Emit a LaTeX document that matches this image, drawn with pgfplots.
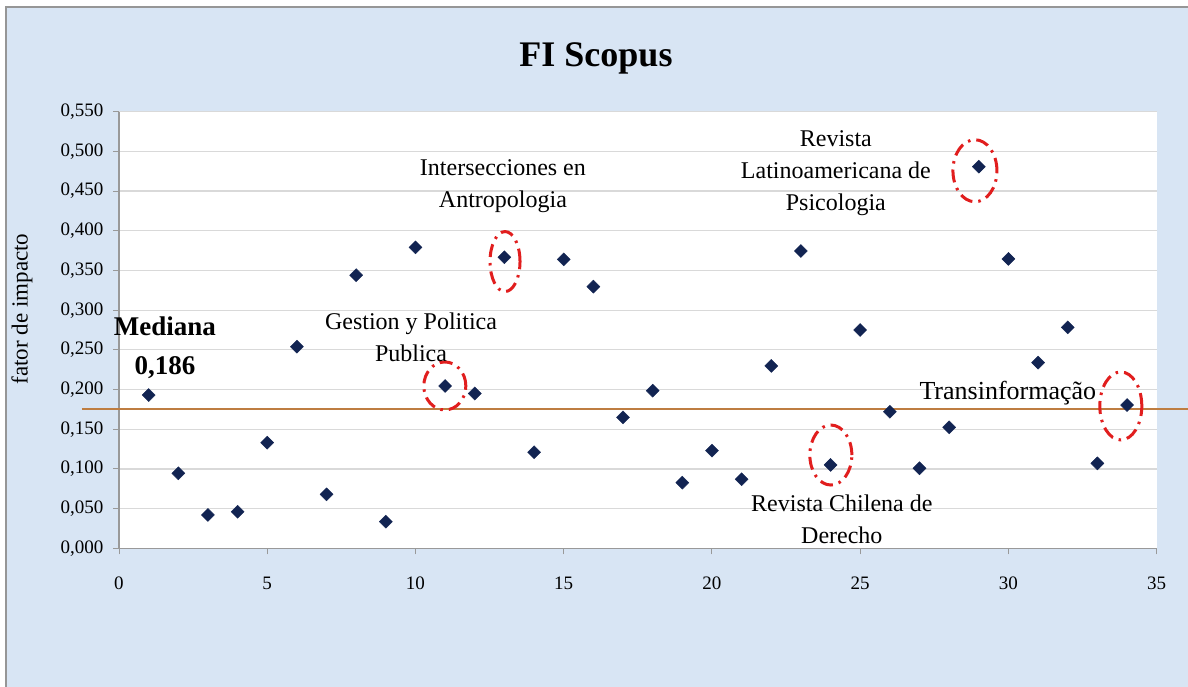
\documentclass[border=0pt]{standalone}
\usepackage{pgfplots}
\pgfplotsset{compat=1.18}
\usepackage{fontspec}
\setmainfont{Liberation Serif}
\definecolor{bgblue}{RGB}{216,229,244}
\definecolor{framegray}{RGB}{150,150,150}
\definecolor{navy}{RGB}{18,36,82}
\definecolor{medline}{RGB}{190,125,65}
\definecolor{redell}{RGB}{225,30,30}
\pgfplotstableread{
x y
1 0.193
2 0.0945
3 0.042
4 0.046
5 0.133
6 0.254
7 0.068
8 0.344
9 0.0335
10 0.379
11 0.2045
12 0.195
13 0.3666
14 0.121
15 0.364
16 0.3296
17 0.165
18 0.1986
19 0.0827
20 0.123
21 0.087
22 0.2297
23 0.3745
24 0.105
25 0.275
26 0.172
27 0.1008
28 0.1524
29 0.4807
30 0.3645
31 0.2339
32 0.2784
33 0.107
34 0.1805
}\fidata
\begin{document}
\begin{tikzpicture}[x=1pt,y=1pt]
\useasboundingbox (0,0) rectangle (1188,687);
\fill[white] (0,0) rectangle (1188,687);
\fill[bgblue] (6,0) rectangle (1188,680);
\draw[framegray,line width=1.5pt] (6,0)--(6,680)--(1188,680);
\node[font=\fontsize{36}{40}\selectfont\bfseries] at (596,629) {FI Scopus};
\begin{axis}[
  at={(119pt,138.7pt)}, anchor=south west,
  scale only axis, width=1037.7pt, height=436.6pt,
  xmin=0, xmax=35, ymin=0, ymax=0.55,
  clip=false,
  axis x line*=bottom, axis y line*=left,
  axis line style={draw=gray!80, line width=1.2pt},
  axis background/.style={fill=white},
  xtick={0,5,...,35},
  ytick={0,0.05,...,0.55},
  tick align=outside, major tick length=6pt,
  tick style={gray!80, line width=1pt},
  ymajorgrids, grid style={gray!30, line width=1.2pt},
  /pgf/number format/assume math mode=true,
  yticklabel style={xshift=-6pt, /pgf/number format/fixed, /pgf/number format/fixed zerofill, /pgf/number format/precision=3, /pgf/number format/use comma},
  ticklabel style={font=\fontsize{19}{21}\selectfont},
  xticklabel style={yshift=-19pt},
  ylabel={fator de impacto},
  ylabel style={font=\fontsize{23}{25}\selectfont, at={(axis description cs:-0.0934,0.548)}, anchor=center},
]
\addplot[medline, line width=2pt, forget plot] coordinates {(-1.25,0.1755) (36.05,0.1755)};
\addplot[only marks, mark=square*, mark size=4.6pt, mark options={rotate=45, fill=navy, draw=navy}] table[x=x,y=y] {\fidata};
\begin{scope}[redell, line width=3pt, dash pattern=on 13pt off 6pt on 2.5pt off 6pt]
\draw (axis cs:13.02,0.3612) ellipse [x radius=15pt, y radius=30pt];
\draw (axis cs:10.99,0.2045) ellipse [x radius=21pt, y radius=24pt];
\draw (axis cs:28.87,0.4756) ellipse [x radius=22pt, y radius=31pt];
\draw (axis cs:24.01,0.1175) ellipse [x radius=21pt, y radius=30pt];
\draw (axis cs:33.79,0.1793) ellipse [x radius=21pt, y radius=34pt];
\end{scope}
\begin{scope}[every node/.style={font=\fontsize{24}{32}\selectfont, align=center}]
\node at (axis cs:12.95,0.4558) {Intersecciones en\\Antropologia};
\node at (axis cs:9.85,0.2656) {Gestion y Politica\\Publica};
\node at (axis cs:24.18,0.4721) {Revista\\Latinoamericana de\\Psicologia};
\node at (axis cs:24.38,0.0369) {Revista Chilena de\\Derecho};
\node[font=\fontsize{26}{30}\selectfont] at (axis cs:29.98,0.1956) {Transinformação};
\end{scope}
\node[font=\fontsize{27}{39}\selectfont\bfseries, align=center] at (axis cs:1.55,0.253) {Mediana\\0,186};
\end{axis}
\end{tikzpicture}
\end{document}
